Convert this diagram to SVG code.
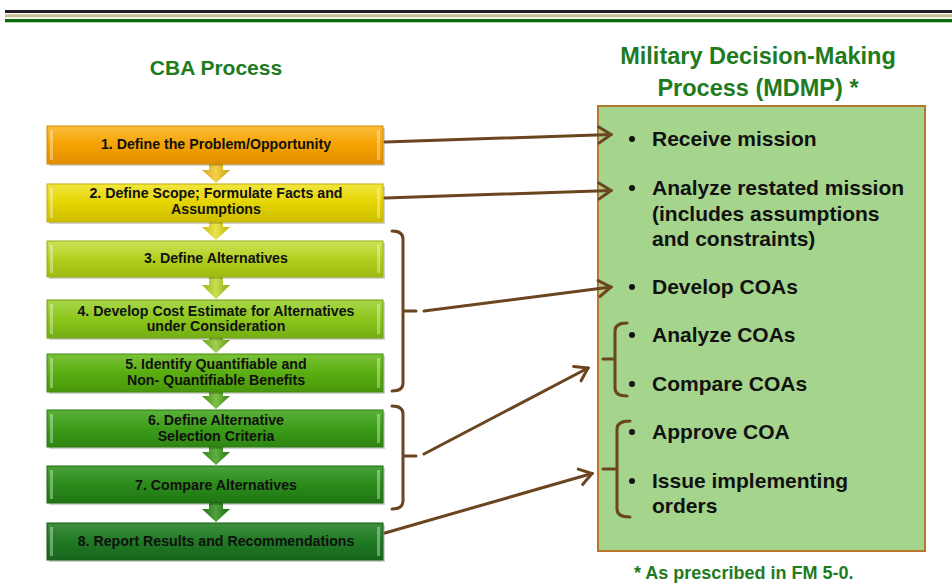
<svg xmlns="http://www.w3.org/2000/svg" width="952" height="585" viewBox="0 0 952 585">
<style>
.title{font-family:"Liberation Sans",Arial,sans-serif;font-weight:bold;font-size:21px;fill:#1e7b1e;text-anchor:middle}
.title2{font-size:23.5px}
.bt{font-family:"Liberation Sans",Arial,sans-serif;font-weight:bold;font-size:14.2px;fill:#111;text-anchor:middle}
.rt{font-family:"Liberation Sans",Arial,sans-serif;font-weight:bold;font-size:21px;fill:#111}
.foot{font-family:"Liberation Sans",Arial,sans-serif;font-weight:bold;font-size:18px;fill:#1e7b1e}
.conn{fill:none;stroke:#6b4420;stroke-width:3;stroke-linecap:round}
.brace{fill:none;stroke:#6b4420;stroke-width:3;stroke-linecap:round;stroke-linejoin:round}
.box{stroke-width:1}
.bev{fill:#ffffff;opacity:0.35}
.shadow{fill:#000;opacity:0.18}
</style>
<defs>
<marker id="chev" viewBox="-14 -10 16 20" refX="0" refY="0" markerWidth="16" markerHeight="20" orient="auto" markerUnits="userSpaceOnUse">
<path d="M-12,-8 L0,0 L-12,8" fill="none" stroke="#6b4420" stroke-width="3" stroke-linecap="round" stroke-linejoin="miter"/>
</marker>
<linearGradient id="g1" x1="0" y1="0" x2="0" y2="1"><stop offset="0" stop-color="#fbbd3a"/><stop offset="0.5" stop-color="#f5a200"/><stop offset="1" stop-color="#e08e00"/></linearGradient>
<linearGradient id="g2" x1="0" y1="0" x2="0" y2="1"><stop offset="0" stop-color="#f2e640"/><stop offset="0.5" stop-color="#e4d400"/><stop offset="1" stop-color="#cdbd00"/></linearGradient>
<linearGradient id="g3" x1="0" y1="0" x2="0" y2="1"><stop offset="0" stop-color="#cde25a"/><stop offset="0.5" stop-color="#b3d01e"/><stop offset="1" stop-color="#9cba10"/></linearGradient>
<linearGradient id="g4" x1="0" y1="0" x2="0" y2="1"><stop offset="0" stop-color="#a8d84a"/><stop offset="0.5" stop-color="#8cc61c"/><stop offset="1" stop-color="#74ae12"/></linearGradient>
<linearGradient id="g5" x1="0" y1="0" x2="0" y2="1"><stop offset="0" stop-color="#7cc23a"/><stop offset="0.5" stop-color="#5aae10"/><stop offset="1" stop-color="#48960c"/></linearGradient>
<linearGradient id="g6" x1="0" y1="0" x2="0" y2="1"><stop offset="0" stop-color="#5bb23a"/><stop offset="0.5" stop-color="#3c9c18"/><stop offset="1" stop-color="#2e8612"/></linearGradient>
<linearGradient id="g7" x1="0" y1="0" x2="0" y2="1"><stop offset="0" stop-color="#4aa23a"/><stop offset="0.5" stop-color="#2a8c1a"/><stop offset="1" stop-color="#207614"/></linearGradient>
<linearGradient id="g8" x1="0" y1="0" x2="0" y2="1"><stop offset="0" stop-color="#3f8e3e"/><stop offset="0.5" stop-color="#207a24"/><stop offset="1" stop-color="#18661c"/></linearGradient>
<linearGradient id="a1" x1="0" y1="0" x2="1" y2="0"><stop offset="0" stop-color="#d9a820"/><stop offset="0.5" stop-color="#f2d04a"/><stop offset="1" stop-color="#c9a010"/></linearGradient>
<linearGradient id="a2" x1="0" y1="0" x2="1" y2="0"><stop offset="0" stop-color="#c8c010"/><stop offset="0.5" stop-color="#ece450"/><stop offset="1" stop-color="#b8b000"/></linearGradient>
<linearGradient id="a3" x1="0" y1="0" x2="1" y2="0"><stop offset="0" stop-color="#98b818"/><stop offset="0.5" stop-color="#c8e050"/><stop offset="1" stop-color="#88a810"/></linearGradient>
<linearGradient id="a4" x1="0" y1="0" x2="1" y2="0"><stop offset="0" stop-color="#6ca818"/><stop offset="0.5" stop-color="#a0d050"/><stop offset="1" stop-color="#5c9810"/></linearGradient>
<linearGradient id="a5" x1="0" y1="0" x2="1" y2="0"><stop offset="0" stop-color="#4a9414"/><stop offset="0.5" stop-color="#7cc048"/><stop offset="1" stop-color="#3c840c"/></linearGradient>
<linearGradient id="a6" x1="0" y1="0" x2="1" y2="0"><stop offset="0" stop-color="#2e8614"/><stop offset="0.5" stop-color="#60b040"/><stop offset="1" stop-color="#24740c"/></linearGradient>
<linearGradient id="a7" x1="0" y1="0" x2="1" y2="0"><stop offset="0" stop-color="#227414"/><stop offset="0.5" stop-color="#50a03c"/><stop offset="1" stop-color="#1a640c"/></linearGradient>
</defs>
<rect width="952" height="585" fill="#ffffff"/>
<g id="header-rules">
<rect x="5" y="10" width="947" height="3" fill="#231f20"/>
<rect x="5" y="14.3" width="947" height="3" fill="#c9bb8e"/>
<rect x="5" y="19" width="947" height="3.3" fill="#0b6b0b"/>
</g>
<g id="titles">
<text class="title" x="216" y="75">CBA Process</text>
<text class="title title2" x="758" y="64">Military Decision-Making</text>
<text class="title title2" x="758" y="96">Process (MDMP) *</text>
</g>
<g id="flow-arrows">
<path d="M209,162 L223,162 L223,170 L230,170 L216,183 L202,170 L209,170 Z" fill="url(#a1)"/>
<path d="M209,220 L223,220 L223,227 L230,227 L216,240 L202,227 L209,227 Z" fill="url(#a2)"/>
<path d="M209,275 L223,275 L223,285 L230,285 L216,299 L202,285 L209,285 Z" fill="url(#a3)"/>
<path d="M209,336 L223,336 L223,340 L230,340 L216,353 L202,340 L209,340 Z" fill="url(#a4)"/>
<path d="M209,390 L223,390 L223,396 L230,396 L216,409 L202,396 L209,396 Z" fill="url(#a5)"/>
<path d="M209,445 L223,445 L223,452 L230,452 L216,465 L202,452 L209,452 Z" fill="url(#a6)"/>
<path d="M209,501 L223,501 L223,509 L230,509 L216,522 L202,509 L209,509 Z" fill="url(#a7)"/>
</g>
<g id="step1">
<rect class="shadow" x="49" y="128" width="336" height="38"/>
<rect class="box" x="47" y="126" width="336" height="38" fill="url(#g1)" stroke="#d08a00"/>
<rect class="bev" x="50" y="130" width="3" height="30"/><rect class="bev" x="377" y="130" width="3" height="30"/>
<text class="bt" x="216" y="149">1. Define the Problem/Opportunity</text>
</g>
<g id="step2">
<rect class="shadow" x="49" y="186" width="336" height="38"/>
<rect class="box" x="47" y="184" width="336" height="38" fill="url(#g2)" stroke="#c0b000"/>
<rect class="bev" x="50" y="188" width="3" height="30"/><rect class="bev" x="377" y="188" width="3" height="30"/>
<text class="bt" x="216" y="198">2.  Define Scope; Formulate  Facts and</text>
<text class="bt" x="216" y="214">Assumptions</text>
</g>
<g id="step3">
<rect class="shadow" x="49" y="243" width="336" height="36"/>
<rect class="box" x="47" y="241" width="336" height="36" fill="url(#g3)" stroke="#94b010"/>
<rect class="bev" x="50" y="245" width="3" height="28"/><rect class="bev" x="377" y="245" width="3" height="28"/>
<text class="bt" x="216" y="263">3. Define Alternatives</text>
</g>
<g id="step4">
<rect class="shadow" x="49" y="302" width="336" height="38"/>
<rect class="box" x="47" y="300" width="336" height="38" fill="url(#g4)" stroke="#6ca012"/>
<rect class="bev" x="50" y="304" width="3" height="30"/><rect class="bev" x="377" y="304" width="3" height="30"/>
<text class="bt" x="216" y="316">4. Develop Cost Estimate for Alternatives</text>
<text class="bt" x="216" y="331">under Consideration</text>
</g>
<g id="step5">
<rect class="shadow" x="49" y="356" width="336" height="38"/>
<rect class="box" x="47" y="354" width="336" height="38" fill="url(#g5)" stroke="#428a0c"/>
<rect class="bev" x="50" y="358" width="3" height="30"/><rect class="bev" x="377" y="358" width="3" height="30"/>
<text class="bt" x="216" y="369">5. Identify Quantifiable and</text>
<text class="bt" x="216" y="385">Non- Quantifiable Benefits</text>
</g>
<g id="step6">
<rect class="shadow" x="49" y="412" width="336" height="37"/>
<rect class="box" x="47" y="410" width="336" height="37" fill="url(#g6)" stroke="#2a7a10"/>
<rect class="bev" x="50" y="414" width="3" height="29"/><rect class="bev" x="377" y="414" width="3" height="29"/>
<text class="bt" x="216" y="425">6. Define Alternative</text>
<text class="bt" x="216" y="441">Selection Criteria</text>
</g>
<g id="step7">
<rect class="shadow" x="49" y="468" width="336" height="37"/>
<rect class="box" x="47" y="466" width="336" height="37" fill="url(#g7)" stroke="#1c6a10"/>
<rect class="bev" x="50" y="470" width="3" height="29"/><rect class="bev" x="377" y="470" width="3" height="29"/>
<text class="bt" x="216" y="490">7.  Compare Alternatives</text>
</g>
<g id="step8">
<rect class="shadow" x="49" y="525" width="336" height="37"/>
<rect class="box" x="47" y="523" width="336" height="37" fill="url(#g8)" stroke="#145a16"/>
<rect class="bev" x="50" y="527" width="3" height="29"/><rect class="bev" x="377" y="527" width="3" height="29"/>
<text class="bt" x="216" y="546">8.  Report Results and Recommendations</text>
</g>
<g id="mdmp-panel">
<rect x="598" y="106" width="327" height="445" fill="#a5d48c" stroke="#b8782c" stroke-width="2"/>
<g fill="#111">
<circle cx="632" cy="139" r="3"/>
<circle cx="632" cy="188" r="3"/>
<circle cx="632" cy="287" r="3"/>
<circle cx="632" cy="335" r="3"/>
<circle cx="632" cy="384" r="3"/>
<circle cx="632" cy="432" r="3"/>
<circle cx="632" cy="481" r="3"/>
</g>
<text class="rt" x="652" y="146">Receive mission</text>
<text class="rt" x="652" y="195">Analyze restated mission</text>
<text class="rt" x="652" y="221">(includes assumptions</text>
<text class="rt" x="652" y="246">and constraints)</text>
<text class="rt" x="652" y="294">Develop COAs</text>
<text class="rt" x="652" y="342">Analyze COAs</text>
<text class="rt" x="652" y="391">Compare COAs</text>
<text class="rt" x="652" y="439">Approve COA</text>
<text class="rt" x="652" y="488">Issue implementing</text>
<text class="rt" x="652" y="513">orders</text>
</g>
<g id="footnote">
<text class="foot" x="634" y="579">* As prescribed in FM 5-0.</text>
</g>
<g id="connectors">
<path class="brace" d="M392,231 Q403,231 403,239 L403,383 Q403,391 392,391 M403,311 L416,311"/>
<path class="brace" d="M392,406 Q403,406 403,414 L403,501 Q403,509 392,509 M403,456 L416,456"/>
<path class="brace" d="M627,323 Q615,323 615,331 L615,388 Q615,396 627,396 M603,359 L615,359"/>
<path class="brace" d="M630,421 Q617,421 617,429 L617,509 Q617,517 630,517 M603,469 L617,469"/>
<path class="conn" d="M385,142 L611,134.5" marker-end="url(#chev)"/>
<path class="conn" d="M385,198 L611,190.5" marker-end="url(#chev)"/>
<path class="conn" d="M424,311 L611,287" marker-end="url(#chev)"/>
<path class="conn" d="M424,454 L588,368" marker-end="url(#chev)"/>
<path class="conn" d="M385,533 L592,473.5" marker-end="url(#chev)"/>
</g>
</svg>
